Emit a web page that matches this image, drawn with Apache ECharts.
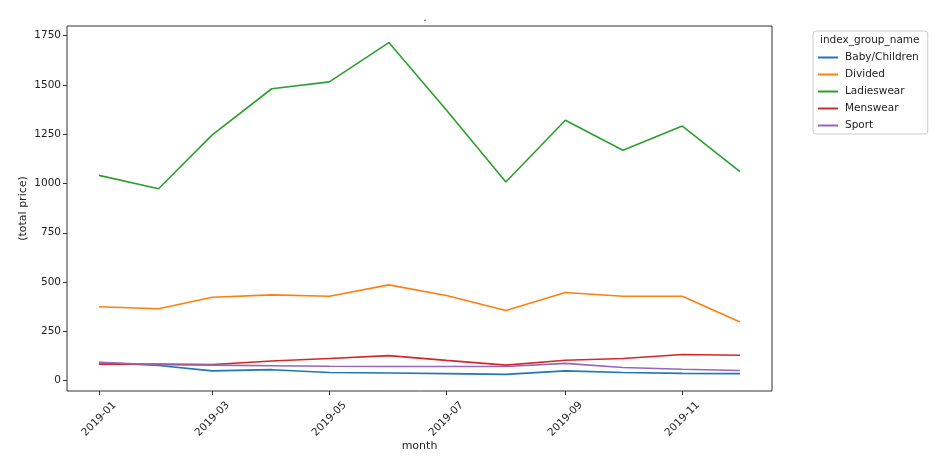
<!DOCTYPE html>
<html>
<head>
<meta charset="utf-8">
<script src="https://cdn.jsdelivr.net/npm/echarts@6/dist/echarts.min.js"></script>
<style>html,body{margin:0;padding:0;background:#fff}#c{width:940px;height:463px}</style>
</head>
<body>
<div id="c"></div>
<script>
// ---- data ----
const months = ['2019-01','2019-02','2019-03','2019-04','2019-05','2019-06','2019-07','2019-08','2019-09','2019-10','2019-11','2019-12'];
const babyChildren = [92, 77, 50, 56, 42, 39, 36, 32, 50, 42, 37, 36];
const divided      = [375, 365, 423, 435, 428, 486, 432, 356, 447, 428, 428, 298];
const ladieswear   = [1041, 973, 1246, 1480, 1515, 1714, 1372, 1007, 1320, 1168, 1291, 1060];
const menswear     = [84, 85, 82, 100, 113, 127, 103, 79, 104, 113, 133, 129];
const sport        = [93, 81, 79, 76, 73, 72, 72, 72, 88, 67, 58, 52];
const seriesNames  = ['Baby/Children','Divided','Ladieswear','Menswear','Sport'];
const xTickLabels  = ['2019-01','2019-03','2019-05','2019-07','2019-09','2019-11'];
const yTickLabels  = [0, 250, 500, 750, 1000, 1250, 1500, 1750];

// ---- helpers ----
function ts(m){ const p = m.split('-'); return Date.UTC(+p[0], +p[1]-1, 1); }
const xs = months.map(ts);
const span = xs[xs.length-1] - xs[0];
const xMin = xs[0] - span*0.05, xMax = xs[xs.length-1] + span*0.05;
const xTickVals = xTickLabels.map(ts);
const allVals = [].concat(babyChildren, divided, ladieswear, menswear, sport);
const vMin = Math.min.apply(null, allVals), vMax = Math.max.apply(null, allVals);
const yMin = vMin - (vMax - vMin)*0.05, yMax = vMax + (vMax - vMin)*0.05;

const colors = ['#1f77b4','#ff7f0e','#2ca02c','#d62728','#9467bd'];
const seriesData = [babyChildren, divided, ladieswear, menswear, sport];
const font = 'DejaVu Sans';

const chart = echarts.init(document.getElementById('c'), null, {renderer:'canvas'});
chart.setOption({
  animation: false,
  backgroundColor: '#fff',
  color: colors,
  title: {
    text: '.', left: 420, top: 8, textAlign: 'center',
    textStyle: {fontFamily: font, fontSize: 11, fontWeight: 'normal', color: '#222'}
  },
  grid: {left: 67, right: 168, top: 26, bottom: 72, show: true, borderColor: '#333', borderWidth: 1, backgroundColor: 'transparent'},
  xAxis: {
    type: 'value', min: xMin, max: xMax,
    name: 'month', nameLocation: 'middle', nameGap: 50, nameMoveOverlap: false,
    nameTextStyle: {fontFamily: font, fontSize: 11, color: '#222'},
    axisLine: {show: false, onZero: false},
    splitLine: {show: false},
    axisTick: {show: true, length: 4, customValues: xTickVals, lineStyle: {color: '#333'}},
    axisLabel: {
      customValues: xTickVals, rotate: 45, align: 'center', verticalAlign: 'middle', margin: 28,
      fontFamily: font, fontSize: 10.5, color: '#222', padding: [0, 0, 0, 0],
      formatter: function(v){ const i = xTickVals.indexOf(v); return i >= 0 ? xTickLabels[i] : ''; }
    }
  },
  yAxis: {
    type: 'value', min: yMin, max: yMax,
    name: '(total price)', nameLocation: 'middle', nameGap: 38, nameRotate: 90, nameMoveOverlap: false,
    nameTextStyle: {fontFamily: font, fontSize: 11, color: '#222'},
    axisLine: {show: false, onZero: false},
    splitLine: {show: false},
    axisTick: {show: true, length: 4, customValues: yTickLabels, lineStyle: {color: '#333'}},
    axisLabel: {customValues: yTickLabels, margin: 6, fontFamily: font, fontSize: 10.5, color: '#222',
      formatter: function(v){ return String(v); }}
  },
  legend: {
    orient: 'vertical', left: 813, top: 31,
    padding: [21, 9, 3, 5],
    itemWidth: 20, itemHeight: 10, itemGap: 6,
    borderColor: '#ccc', borderWidth: 1, borderRadius: 3,
    textStyle: {fontFamily: font, fontSize: 10.5, color: '#222', padding: [0,0,0,2]},
    data: seriesNames.map(function(n){ return {name: n, icon: 'path://M0,0 L20,0 L20,2 L0,2 Z'}; })
  },
  graphic: [{
    type: 'text', left: 820, top: 35,
    style: {text: 'index_group_name', fontFamily: font, fontSize: 10.5, fill: '#222'}
  }],
  series: seriesNames.map(function(n, i){
    return {
      name: n, type: 'line', symbol: 'none', smooth: false,
      lineStyle: {width: 1.6, color: colors[i]},
      itemStyle: {color: colors[i]},
      data: xs.map(function(x, j){ return [x, seriesData[i][j]]; })
    };
  })
});
</script>
</body>
</html>
